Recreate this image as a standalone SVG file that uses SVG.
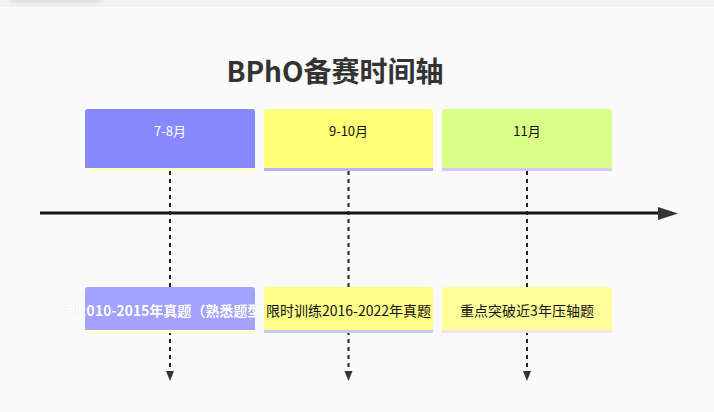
<svg xmlns="http://www.w3.org/2000/svg" width="714" height="412" viewBox="0 0 714 412">
  <defs>
    <style>
      text { font-family: "Noto Sans CJK SC", "Noto Sans", sans-serif; }
      .title { font-size: 28px; font-weight: bold; fill: #333333; }
      .top { font-size: 13px; }
      .bot { font-size: 14px; }
      .dash { stroke: #222222; stroke-width: 2; stroke-dasharray: 4 4; fill: none; }
    </style>
    <filter id="glow" x="-10%" y="-50%" width="120%" height="200%">
      <feDropShadow dx="0" dy="0" stdDeviation="0.6" flood-color="#888888" flood-opacity="0.45"/>
    </filter>
    <filter id="blur" x="-20%" y="-200%" width="140%" height="500%">
      <feGaussianBlur stdDeviation="2"/>
    </filter>
  </defs>

  <rect x="0" y="0" width="714" height="412" fill="#fafafa"/>
  <rect x="0" y="0" width="714" height="7" fill="#f2f2f2"/>
  <rect x="10" y="-2" width="90" height="4" fill="#d6d6d6" filter="url(#blur)"/>

  <text class="title" x="335" y="82" text-anchor="middle">BPhO备赛时间轴</text>

  <g id="connectors">
    <line x1="40" y1="213" x2="660" y2="213" stroke="#111111" stroke-width="3"/>
    <polygon points="658,207 678,213.5 658,220" fill="#333333"/>
    <line class="dash" x1="170" y1="171" x2="170" y2="372"/>
    <polygon points="166,371 174,371 170,381" fill="#333333"/>
    <line class="dash" x1="348.5" y1="171" x2="348.5" y2="372"/>
    <polygon points="344.5,371 352.5,371 348.5,381" fill="#333333"/>
    <line class="dash" x1="527" y1="171" x2="527" y2="372"/>
    <polygon points="523,371 531,371 527,381" fill="#333333"/>
  </g>

  <g id="top-1">
    <rect x="85" y="109" width="170" height="62" rx="3" fill="#8888ff"/>
    <rect x="85" y="168" width="170" height="3" fill="#ffffcc"/>
    <text class="top" x="170" y="136" text-anchor="middle" fill="#ffffff">7-8月</text>
  </g>
  <g id="top-2">
    <rect x="264" y="109" width="169" height="62" rx="3" fill="#ffff77"/>
    <rect x="264" y="168" width="169" height="3" fill="#b3b3ff"/>
    <text class="top" x="348.5" y="136" text-anchor="middle" fill="#111111">9-10月</text>
  </g>
  <g id="top-3">
    <rect x="442" y="109" width="170" height="62" rx="3" fill="#d9ff88"/>
    <rect x="442" y="168" width="170" height="3" fill="#d9c8ff"/>
    <text class="top" x="527" y="136" text-anchor="middle" fill="#111111">11月</text>
  </g>

  <g id="bottom-1">
    <rect x="85" y="287" width="170" height="46" rx="3" fill="#a3a3ff"/>
    <rect x="85" y="330" width="170" height="3" fill="#ffffcc"/>
    <text class="bot" x="170" y="316" text-anchor="middle" fill="#ffffff" font-weight="bold" filter="url(#glow)">刷2010-2015年真题（熟悉题型）</text>
  </g>
  <g id="bottom-2">
    <rect x="264" y="287" width="169" height="46" rx="3" fill="#ffff88"/>
    <rect x="264" y="330" width="169" height="3" fill="#c8c8ff"/>
    <text class="bot" x="348.5" y="316" text-anchor="middle" fill="#111111">限时训练2016-2022年真题</text>
  </g>
  <g id="bottom-3">
    <rect x="442" y="287" width="170" height="46" rx="3" fill="#ffff99"/>
    <rect x="442" y="330" width="170" height="3" fill="#ffddf0"/>
    <text class="bot" x="527" y="316" text-anchor="middle" fill="#111111">重点突破近3年压轴题</text>
  </g>
</svg>
